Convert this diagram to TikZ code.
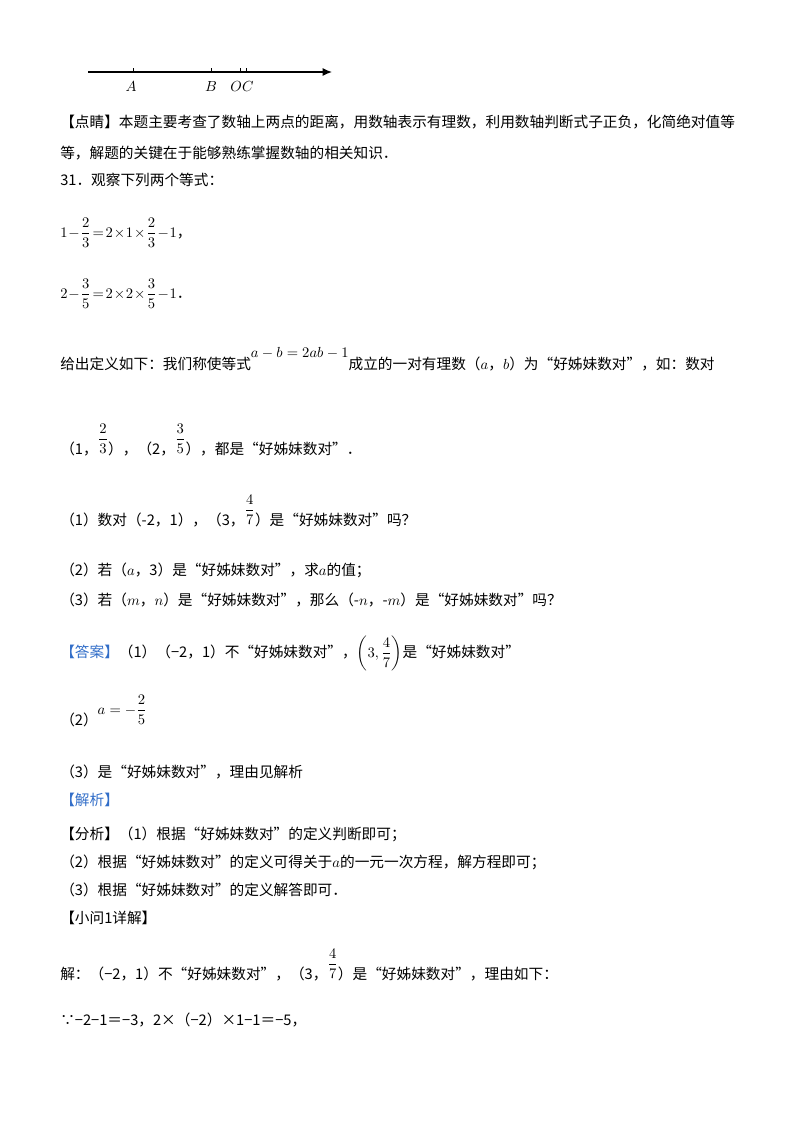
\documentclass[tikz,border=0pt]{standalone}
\usepackage{fontspec}
\setmainfont{Noto Sans CJK SC}
\usepackage{amsmath}
\usetikzlibrary{arrows.meta}
\definecolor{ansblue}{RGB}{50,110,200}
\tikzset{txt/.style={anchor=base west,inner sep=0pt,font=\fontsize{11pt}{12pt}\selectfont},
 lab/.style={anchor=base,inner sep=0pt,font=\itshape\fontsize{11pt}{12pt}\selectfont}}
\begin{document}
\begin{tikzpicture}[x=0.75pt,y=-0.75pt]
\useasboundingbox (0,0) rectangle (800,1132);
% number line
\coordinate (s) at (88,72); \coordinate (e) at (332,72);
\draw[line width=0.9pt,-{Latex[length=7pt,width=6pt]}] (s) -- (e);
\foreach \p in {133,211,240,246}{\draw (\p,72) -- (\p,68);}
\node[lab] (A) at (131,91) {$A$};
\node[lab] (B) at (211,91) {$B$};
\node[lab] (OC) at (242,91) {$OC$};
\node[txt] (d1) at (60,127) {【点睛】本题主要考查了数轴上两点的距离，用数轴表示有理数，利用数轴判断式子正负，化简绝对值等};
\node[txt] (d2) at (60,158) {等，解题的关键在于能够熟练掌握数轴的相关知识．};
\node[txt] (q) at (60,185) {31．观察下列两个等式：};
\node[txt] (e1) at (60,237) {$1\!-\!\dfrac{2}{3}\!=\!2\!\times\!1\!\times\!\dfrac{2}{3}\!-\!1$，};
\node[txt] (e2) at (60,298) {$2\!-\!\dfrac{3}{5}\!=\!2\!\times\!2\!\times\!\dfrac{3}{5}\!-\!1$．};
\node[txt] (def) at (60,369) {给出定义如下：我们称使等式\raisebox{9pt}{$a-b=2ab-1$}成立的一对有理数（$a$，$b$）为“好姊妹数对”，如：数对};
\node[txt] (ex) at (60,454) {（1，\raisebox{8pt}{$\dfrac{2}{3}$}），（2，\raisebox{8pt}{$\dfrac{3}{5}$}），都是“好姊妹数对”．};
\node[txt] (p1) at (60,525) {（1）数对（-2，1），（3，\raisebox{8pt}{$\dfrac{4}{7}$}）是“好姊妹数对”吗？};
\node[txt] (p2) at (60,575) {（2）若（$a$，3）是“好姊妹数对”，求$a$的值；};
\node[txt] (p3) at (60,605) {（3）若（$m$，$n$）是“好姊妹数对”，那么（-$n$，-$m$）是“好姊妹数对”吗？};
\node[txt] (ans) at (60,657) {\textcolor{ansblue}{【答案】}（1）（−2，1）不“好姊妹数对”，$\left(3,\dfrac{4}{7}\right)$是“好姊妹数对”};
\node[txt] (a2) at (60,725) {（2）\raisebox{8pt}{$a=-\dfrac{2}{5}$}};
\node[txt] (a3) at (60,777) {（3）是“好姊妹数对”，理由见解析};
\node[txt] (jx) at (60,805) {\textcolor{ansblue}{【解析】}};
\node[txt] (f1) at (60,839) {【分析】（1）根据“好姊妹数对”的定义判断即可；};
\node[txt] (f2) at (60,867) {（2）根据“好姊妹数对”的定义可得关于$a$的一元一次方程，解方程即可；};
\node[txt] (f3) at (60,895) {（3）根据“好姊妹数对”的定义解答即可．};
\node[txt] (x1) at (60,923) {【小问1详解】};
\node[txt] (j) at (60,979) {解：（−2，1）不“好姊妹数对”，（3，\raisebox{8pt}{$\dfrac{4}{7}$}）是“好姊妹数对”，理由如下：};
\node[txt] (bc) at (60,1025) {∵−2−1＝−3，2×（−2）×1−1＝−5，};
\end{tikzpicture}
\end{document}
